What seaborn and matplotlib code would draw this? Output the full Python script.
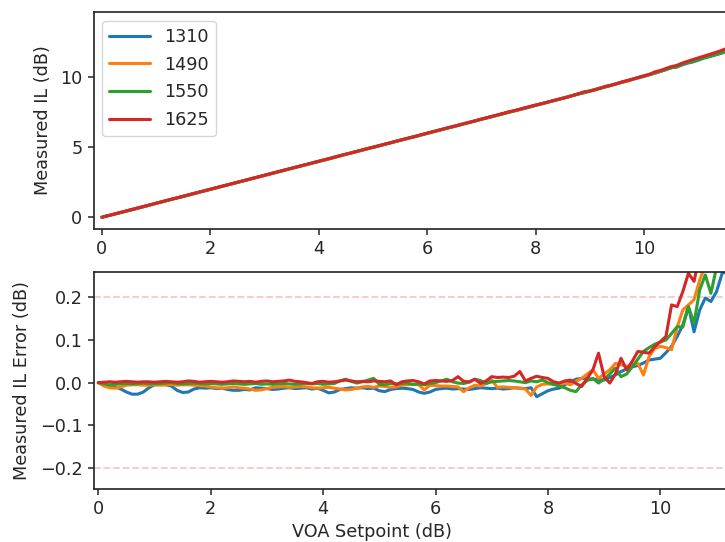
import numpy as np
import pandas as pd
import matplotlib
matplotlib.use("Agg")
import matplotlib.pyplot as plt
import seaborn as sns

# VOA setpoints (dB), 0.1 dB grid
setpoint = np.round(np.arange(0, 121) * 0.1, 1)

wavelengths = ["1310", "1490", "1550", "1625"]

# Measured IL error (dB) for each wavelength (one value per 0.1 dB)
err_1310 = [
    0.000, -0.005, -0.010, -0.010, -0.015, -0.022, -0.027, -0.027, -0.022, -0.012,
    -0.005, -0.004, -0.005, -0.008, -0.018, -0.023, -0.022, -0.015, -0.012, -0.013,
    -0.012, -0.014, -0.013, -0.016, -0.018, -0.018, -0.016, -0.017, -0.012, -0.013,
    -0.014, -0.016, -0.015, -0.013, -0.012, -0.014, -0.013, -0.012, -0.015, -0.013,
    -0.018, -0.024, -0.022, -0.016, -0.014, -0.012, -0.013, -0.012, -0.014, -0.013,
    -0.019, -0.021, -0.016, -0.014, -0.013, -0.014, -0.016, -0.022, -0.025, -0.022,
    -0.016, -0.014, -0.013, -0.015, -0.014, -0.015, -0.016, -0.014, -0.012, -0.013,
    -0.014, -0.013, -0.015, -0.014, -0.012, -0.013, -0.014, -0.012, -0.033, -0.026,
    -0.019, -0.015, -0.013, -0.005, 0.002, 0.008, 0.010, 0.009, 0.008, 0.007,
    0.006, 0.012, 0.018, 0.026, 0.032, 0.037, 0.040, 0.046, 0.053, 0.055,
    0.057, 0.070, 0.085, 0.108, 0.135, 0.178, 0.119, 0.170, 0.198, 0.190,
    0.213, 0.256, 0.260, 0.270, 0.290, 0.320, 0.340, 0.370, 0.400, 0.430,
    0.460,
]
err_1490 = [
    0.000, -0.008, -0.012, -0.013, -0.010, -0.006, -0.005, -0.005, -0.006, -0.006,
    -0.005, -0.006, -0.005, -0.004, -0.006, -0.005, -0.005, -0.006, -0.007, -0.008,
    -0.010, -0.012, -0.013, -0.012, -0.010, -0.012, -0.013, -0.015, -0.018, -0.017,
    -0.014, -0.011, -0.010, -0.009, -0.011, -0.010, -0.009, -0.010, -0.012, -0.013,
    -0.012, -0.011, -0.013, -0.015, -0.017, -0.016, -0.013, -0.010, -0.009, -0.011,
    -0.008, -0.009, -0.011, -0.010, -0.006, -0.005, -0.004, -0.005, -0.017, -0.006,
    -0.007, -0.008, -0.008, -0.009, -0.010, -0.021, -0.012, -0.006, -0.008, -0.002,
    0.006, -0.011, -0.010, -0.011, -0.012, -0.013, -0.015, -0.030, -0.010, -0.004,
    -0.003, -0.004, -0.005, -0.001, -0.005, 0.003, 0.010, 0.020, 0.030, 0.010,
    0.020, 0.030, 0.045, 0.042, 0.038, 0.042, 0.045, 0.018, 0.061, 0.080,
    0.085, 0.082, 0.077, 0.130, 0.170, 0.182, 0.194, 0.240, 0.275, 0.290,
    0.300, 0.320, 0.330, 0.350, 0.370, 0.400, 0.430, 0.460, 0.490, 0.520,
    0.550,
]
err_1550 = [
    0.000, -0.003, -0.005, -0.004, -0.003, -0.002, -0.003, -0.002, -0.001, -0.002,
    -0.003, -0.002, -0.001, 0.000, -0.002, -0.003, -0.002, -0.001, -0.002, -0.003,
    -0.002, -0.003, -0.004, -0.003, -0.002, -0.003, -0.004, -0.003, -0.002, -0.004,
    -0.003, -0.004, -0.003, -0.002, -0.003, -0.004, -0.003, -0.002, -0.003, -0.002,
    -0.004, -0.003, -0.002, 0.004, 0.008, 0.003, -0.001, 0.002, 0.006, 0.010,
    -0.004, -0.005, -0.002, -0.003, -0.002, -0.001, -0.004, -0.003, -0.005, -0.002,
    0.000, 0.004, 0.008, 0.002, -0.001, -0.002, 0.001, 0.008, 0.005, -0.002,
    0.002, 0.003, 0.004, 0.005, 0.004, 0.002, 0.000, 0.004, 0.002, 0.006,
    0.000, -0.004, -0.008, -0.012, -0.018, -0.021, -0.005, 0.005, 0.010, -0.001,
    0.008, 0.020, 0.034, 0.014, 0.020, 0.037, 0.055, 0.073, 0.082, 0.090,
    0.095, 0.100, 0.115, 0.131, 0.130, 0.178, 0.139, 0.217, 0.252, 0.209,
    0.270, 0.280, 0.280, 0.290, 0.290, 0.300, 0.320, 0.340, 0.360, 0.380,
    0.400,
]
err_1625 = [
    0.000, 0.001, 0.002, 0.001, 0.002, 0.003, 0.002, 0.001, 0.002, 0.002,
    0.001, 0.002, 0.003, 0.002, 0.001, 0.002, 0.004, 0.003, 0.001, 0.002,
    0.003, 0.002, 0.001, 0.002, 0.004, 0.003, 0.002, 0.003, 0.001, 0.003,
    0.004, 0.002, 0.003, 0.004, 0.006, 0.003, 0.002, 0.000, -0.002, 0.002,
    0.003, 0.001, 0.002, 0.004, 0.006, 0.004, 0.002, 0.003, 0.002, 0.004,
    0.003, 0.002, 0.004, -0.005, 0.002, 0.004, 0.005, 0.002, -0.003, 0.004,
    0.005, 0.004, 0.003, 0.005, 0.014, 0.003, 0.002, 0.008, -0.002, 0.004,
    0.014, 0.012, 0.013, 0.012, 0.015, 0.026, 0.004, 0.010, 0.015, 0.012,
    0.010, 0.002, -0.001, 0.004, 0.006, -0.002, -0.009, 0.010, 0.030, 0.069,
    0.014, -0.001, 0.020, 0.057, 0.030, 0.050, 0.073, 0.071, 0.069, 0.084,
    0.096, 0.108, 0.182, 0.178, 0.213, 0.256, 0.237, 0.300, 0.330, 0.360,
    0.380, 0.400, 0.420, 0.440, 0.470, 0.520, 0.560, 0.600, 0.640, 0.680,
    0.720,
]

error_limit = 0.2
x_ticks = [0, 2, 4, 6, 8, 10]
il_ticks = [0, 5, 10]
err_ticks = [-0.2, -0.1, 0.0, 0.1, 0.2]

errors = dict(zip(wavelengths, [err_1310, err_1490, err_1550, err_1625]))
frames = []
for wl in wavelengths:
    e = np.array(errors[wl])
    frames.append(pd.DataFrame({
        "setpoint": setpoint,
        "error": e,
        "measured": setpoint + e,
        "wavelength": wl,
    }))
df = pd.concat(frames, ignore_index=True)

sns.set_style("ticks")
plt.rcParams["font.family"] = ["DejaVu Sans"]
plt.rcParams["font.size"] = 12.7
plt.rcParams["axes.linewidth"] = 1.2
plt.rcParams["axes.edgecolor"] = "#222222"
plt.rcParams["xtick.major.size"] = 4.5
plt.rcParams["ytick.major.size"] = 4.5
plt.rcParams["xtick.major.width"] = 1.1
plt.rcParams["ytick.major.width"] = 1.1

W, H = 725, 542
fig = plt.figure(figsize=(W / 100, H / 100), dpi=100)
axw = 700
ax1 = fig.add_axes([93.5 / W, 1 - 229 / H, axw / W, 217 / H])
ax2 = fig.add_axes([94 / W, 1 - 489 / H, axw / W, 217 / H])

palette = sns.color_palette("tab10", 4)

sns.lineplot(data=df, x="setpoint", y="measured", hue="wavelength",
             hue_order=wavelengths, palette=palette, estimator=None,
             linewidth=2.2, ax=ax1)
sns.lineplot(data=df, x="setpoint", y="error", hue="wavelength",
             hue_order=wavelengths, palette=palette, estimator=None,
             linewidth=2.2, ax=ax2, legend=False)

ax2.axhline(error_limit, ls="--", color="C3", alpha=0.25, lw=1.3, zorder=0)
ax2.axhline(-error_limit, ls="--", color="C3", alpha=0.25, lw=1.3, zorder=0)

ax1.set_xlim(-0.155, -0.155 + axw / 54.2)
ax1.set_ylim(-0.84, 14.66)
ax1.set_xticks(x_ticks)
ax1.set_yticks(il_ticks)
ax1.set_xlabel("")
ax1.set_ylabel("Measured IL (dB)", labelpad=6)

ax2.set_xlim(-0.077, -0.077 + axw / 56.2)
ax2.set_ylim(-0.249, 0.259)
ax2.set_xticks(x_ticks)
ax2.set_yticks(err_ticks)
ax2.set_ylabel("Measured IL Error (dB)", labelpad=6.5)
ax2.set_xlabel("VOA Setpoint (dB)")
ax2.xaxis.set_label_coords((372 - 94) / axw, -0.158)

handles, labels = ax1.get_legend_handles_labels()
ax1.legend(handles, labels, loc="upper left", title=None, frameon=True,
           handlelength=2.3, labelspacing=0.55)

fig.savefig("out.png", dpi=100)
